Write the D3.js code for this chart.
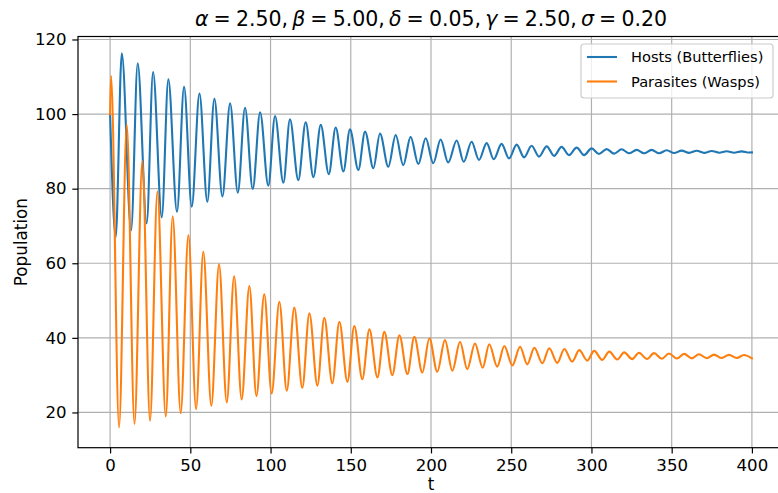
<!DOCTYPE html>
<html>
<head>
<meta charset="utf-8">
<script src="https://cdn.jsdelivr.net/npm/d3@7"></script>
<style>
  html, body { margin: 0; padding: 0; background: #ffffff; }
  svg { display: block; }
  text { font-family: "DejaVu Sans", sans-serif; fill: #000; }
</style>
</head>
<body>
<svg id="chart" width="778" height="493"></svg>
<script>
// Host-parasitoid model output: turning points of each population over time
const hostT = [0, 3.5, 7.3, 13.1, 17.2, 22.8, 26.8, 32.2, 36.3, 41.7, 46.1, 50.9, 55.7, 60.6, 65.0, 70.0,
  74.8, 79.6, 84.1, 88.9, 93.5, 98.6, 102.8, 108.0, 112.1, 117.3, 121.9, 126.7, 131.3, 136.3, 140.6,
  145.4, 149.5, 154.7, 158.9, 164.1, 168.2, 173.4, 178.0, 182.7, 187.3, 192.1, 196.7, 201.4, 206.0,
  210.7, 216.0, 220.4, 225.3, 229.9, 234.7, 239.1, 244.0, 248.6, 253.4, 258.0, 262.7, 267.3, 272.1,
  276.7, 281.4, 286.0, 290.8, 295.4, 300.1, 304.7, 309.5, 314.1, 318.8, 323.4, 328.2, 332.8, 337.5,
  342.2, 346.9, 351.5, 356.2, 360.9, 365.6, 370.2, 374.9, 379.6, 384.3, 388.9, 393.6, 398.3, 400];
const hostV = [100, 67.0, 116.3, 68.8, 113.6, 70.7, 111.3, 72.3, 109.3, 73.8, 107.3, 75.2, 105.5, 76.5, 104.1, 77.9,
  102.9, 78.9, 101.7, 79.9, 100.5, 80.8, 99.5, 81.6, 98.6, 82.3, 97.8, 83.1, 97.1, 83.9, 96.4,
  84.6, 95.9, 85.0, 95.3, 85.5, 94.8, 85.9, 94.4, 86.3, 93.9, 86.6, 93.5, 86.8, 93.2,
  87.0, 92.9, 87.2, 92.6, 87.7, 92.2, 87.9, 92.0, 88.1, 91.8, 88.4, 91.5, 88.6, 91.35,
  88.8, 91.2, 89.0, 91.0, 89.0, 90.8, 89.3, 90.6, 89.4, 90.55, 89.5, 90.4, 89.5, 90.4,
  89.5, 90.3, 89.55, 90.2, 89.6, 90.15, 89.6, 90.1, 89.65, 90.05, 89.65, 90.0, 89.7, 89.72];

const waspT = [0, 0.6, 5.6, 10.4, 15.2, 20.1, 24.9, 29.5, 34.7, 39.0, 44.0, 48.8, 53.6, 58.1, 63.1, 67.9,
  72.7, 77.3, 82.0, 86.8, 91.2, 96.1, 100.7, 105.5, 110.1, 114.8, 119.8, 124.2, 129.2, 133.5, 138.5,
  142.9, 147.9, 152.2, 157.2, 161.6, 166.6, 170.9, 175.9, 180.3, 185.3, 189.6, 194.6, 199.0, 203.9,
  208.7, 213.3, 218.1, 222.6, 227.4, 232.2, 236.3, 241.3, 245.7, 250.7, 255.5, 260.0, 264.4, 269.4,
  273.7, 278.7, 283.1, 288.0, 292.4, 297.4, 301.7, 306.7, 311.1, 316.1, 320.4, 325.4, 329.6, 334.6,
  339.0, 343.9, 348.3, 353.2, 357.7, 362.6, 367.0, 371.9, 376.4, 381.2, 385.7, 390.5, 395.1, 400];
const waspV = [100, 110.2, 16.0, 97.2, 16.9, 87.4, 17.8, 79.2, 18.9, 72.6, 19.8, 67.5, 20.9, 63.1, 21.8, 59.7,
  22.7, 56.5, 23.5, 53.9, 24.4, 51.7, 25.1, 49.7, 25.8, 48.1, 26.6, 46.6, 27.2, 45.4, 27.8,
  44.3, 28.2, 43.2, 28.9, 42.3, 29.4, 41.6, 30.0, 40.7, 30.3, 40.3, 30.7, 39.9, 30.9,
  39.4, 31.2, 38.96, 31.6, 38.5, 32.0, 38.3, 32.3, 37.8, 32.6, 37.6, 32.9, 37.35, 33.2,
  37.2, 33.3, 37.0, 33.6, 36.7, 33.9, 36.5, 34.1, 36.3, 34.2, 36.1, 34.3, 36.0, 34.35,
  35.9, 34.4, 35.8, 34.45, 35.7, 34.5, 35.6, 34.55, 35.5, 34.6, 35.45, 34.6, 35.4, 34.5];

const seriesNames = ["Hosts (Butterflies)", "Parasites (Wasps)"];
const seriesColors = ["#1f77b4", "#ff7f0e"];
const xTicks = [0, 50, 100, 150, 200, 250, 300, 350, 400];
const yTicks = [20, 40, 60, 80, 100, 120];
const paramSymbols = ["α", "β", "δ", "γ", "σ"];
const paramValues = ["2.50", "5.00", "0.05", "2.50", "0.20"];
const xLabel = "t";
const yLabel = "Population";

// Layout
const plot = { left: 78, right: 784, top: 36.5, bottom: 447.7 };
const tickLen = 5.7, tickPad = 5.7;

const svg = d3.select("#chart");

const x = d3.scaleLinear().domain([-20, 420]).range([plot.left, plot.right]);
const y = d3.scaleLinear().domain([10.55, 120.8]).range([plot.bottom, plot.top]);

svg.append("defs").append("clipPath").attr("id", "plot-clip")
  .append("rect")
  .attr("x", plot.left).attr("y", plot.top)
  .attr("width", plot.right - plot.left).attr("height", plot.bottom - plot.top);

// Grid
const grid = svg.append("g").attr("class", "grid");
grid.selectAll("line.vx").data(xTicks).join("line")
  .attr("x1", d => x(d)).attr("x2", d => x(d))
  .attr("y1", plot.top).attr("y2", plot.bottom)
  .attr("stroke", "#b0b0b0").attr("stroke-width", 1.2);
grid.selectAll("line.hy").data(yTicks).join("line")
  .attr("x1", plot.left).attr("x2", plot.right)
  .attr("y1", d => y(d)).attr("y2", d => y(d))
  .attr("stroke", "#b0b0b0").attr("stroke-width", 1.2);

// Series
const line = d3.line().curve(d3.curveMonotoneX).x(d => x(d[0])).y(d => y(d[1]));
const series = [d3.zip(hostT, hostV), d3.zip(waspT, waspV)];
const lines = svg.append("g").attr("clip-path", "url(#plot-clip)");
series.forEach((pts, i) => {
  lines.append("path")
    .datum(pts)
    .attr("d", line)
    .attr("fill", "none")
    .attr("stroke", seriesColors[i])
    .attr("stroke-width", 2.1)
    .attr("stroke-linejoin", "round")
    .attr("stroke-linecap", "square");
});

// Axes
const xAxis = svg.append("g").attr("transform", `translate(0,${plot.bottom})`)
  .call(d3.axisBottom(x).tickValues(xTicks).tickSize(tickLen).tickPadding(tickPad).tickSizeOuter(0));
const yAxis = svg.append("g").attr("transform", `translate(${plot.left},0)`)
  .call(d3.axisLeft(y).tickValues(yTicks).tickSize(tickLen).tickPadding(tickPad).tickSizeOuter(0));
[xAxis, yAxis].forEach(g => {
  g.select(".domain").remove();
  g.selectAll(".tick line").attr("stroke", "#000").attr("stroke-width", 1.2);
  g.selectAll(".tick text").attr("font-size", "16.6px").attr("font-family", "DejaVu Sans, sans-serif").attr("fill", "#000");
});

// Spines
svg.append("rect")
  .attr("x", plot.left).attr("y", plot.top)
  .attr("width", plot.right - plot.left).attr("height", plot.bottom - plot.top)
  .attr("fill", "none").attr("stroke", "#000").attr("stroke-width", 1.2);

// Axis labels
svg.append("text")
  .attr("x", (plot.left + plot.right) / 2).attr("y", 490)
  .attr("text-anchor", "middle").attr("font-size", "16.8px")
  .text(xLabel);
svg.append("text")
  .attr("transform", `translate(26.5,${(plot.top + plot.bottom) / 2}) rotate(-90)`)
  .attr("text-anchor", "middle").attr("font-size", "16.8px")
  .text(yLabel);

// Title with italic parameter symbols; math-style narrow spacing
const title = svg.append("text")
  .attr("x", (plot.left + plot.right) / 2).attr("y", 26)
  .attr("text-anchor", "middle").attr("font-size", "20.5px");
paramSymbols.forEach((s, i) => {
  title.append("tspan").attr("font-style", "italic").text(s);
  title.append("tspan").text("\u2005=\u2005" + paramValues[i] + (i < paramSymbols.length - 1 ? ",\u2009" : ""));
});

// Legend
const lg = { x: 581, y: 44, w: 192, h: 54 };
const legend = svg.append("g");
legend.append("rect")
  .attr("x", lg.x).attr("y", lg.y).attr("width", lg.w).attr("height", lg.h)
  .attr("rx", 3).attr("ry", 3)
  .attr("fill", "#ffffff").attr("fill-opacity", 0.8)
  .attr("stroke", "#cccccc").attr("stroke-width", 1.2);
seriesNames.forEach((name, i) => {
  const cy = lg.y + 13 + i * 24.5;
  legend.append("line")
    .attr("x1", lg.x + 6).attr("x2", lg.x + 36)
    .attr("y1", cy).attr("y2", cy)
    .attr("stroke", seriesColors[i]).attr("stroke-width", 2.1);
  legend.append("text")
    .attr("x", lg.x + 50).attr("y", cy).attr("dy", "0.36em")
    .attr("font-size", "14.6px")
    .text(name);
});
</script>
</body>
</html>
